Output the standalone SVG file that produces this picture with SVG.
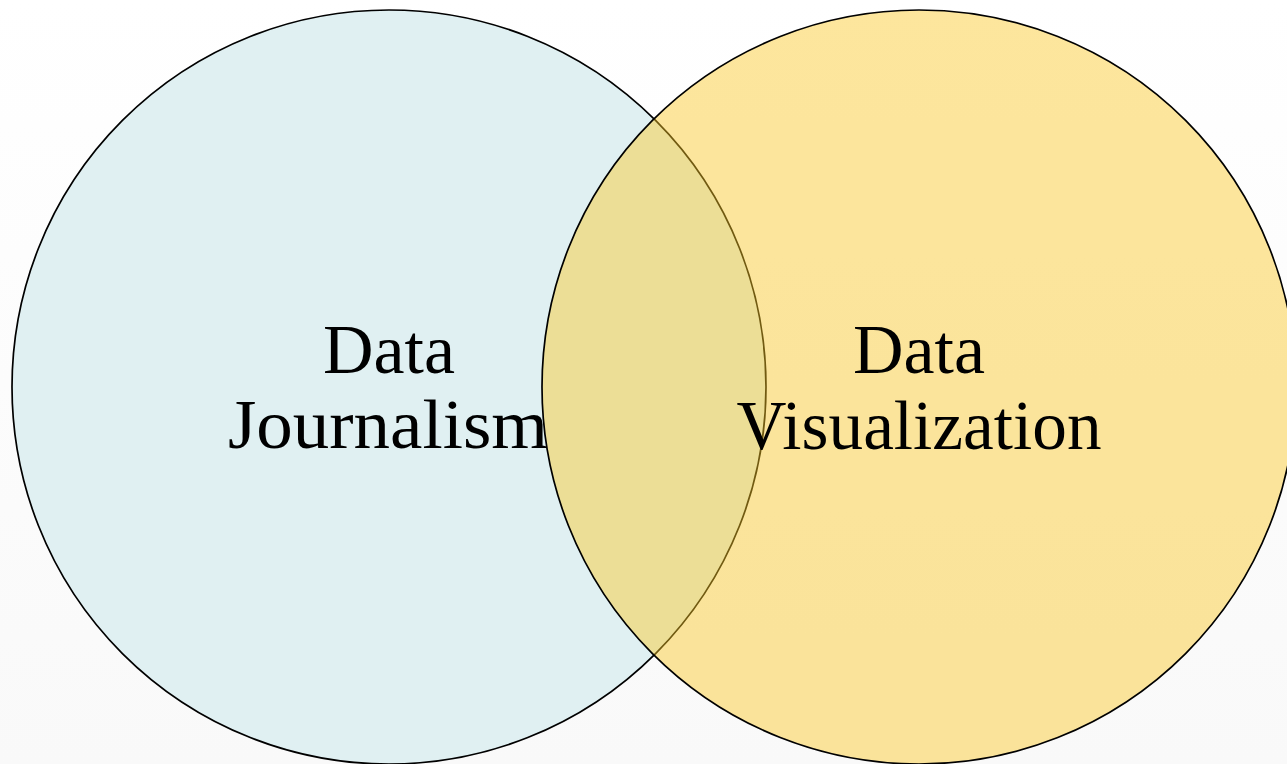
<svg xmlns="http://www.w3.org/2000/svg" width="1287" height="764" viewBox="0 0 1287 764">
  <defs>
    <linearGradient id="bg" x1="0" y1="0" x2="0" y2="1">
      <stop offset="0" stop-color="#ffffff"/>
      <stop offset="1" stop-color="#f9f9f9"/>
    </linearGradient>
    <style>
      .circle { stroke: #000000; stroke-width: 1.7; }
      .label { font-family: "Liberation Serif", "DejaVu Serif", serif; font-size: 70px; fill: #000000; text-anchor: middle; }
    </style>
  </defs>
  <rect x="0" y="0" width="1287" height="764" fill="url(#bg)"/>
  <g id="node-data-journalism">
    <circle class="circle" cx="389" cy="387" r="377" fill="#e0f0f2"/>
    <text class="label" x="389" y="373" textLength="132" lengthAdjust="spacingAndGlyphs">Data</text>
    <text class="label" x="388" y="448" textLength="320" lengthAdjust="spacingAndGlyphs">Journalism</text>
  </g>
  <g id="node-data-visualization">
    <circle class="circle" cx="919" cy="387" r="377" fill="#fbc725" fill-opacity="0.45"/>
    <text class="label" x="919" y="373" textLength="132" lengthAdjust="spacingAndGlyphs">Data</text>
    <text class="label" x="919" y="449" textLength="365" lengthAdjust="spacingAndGlyphs">Visualization</text>
  </g>
  <g id="connectors"/>
</svg>
